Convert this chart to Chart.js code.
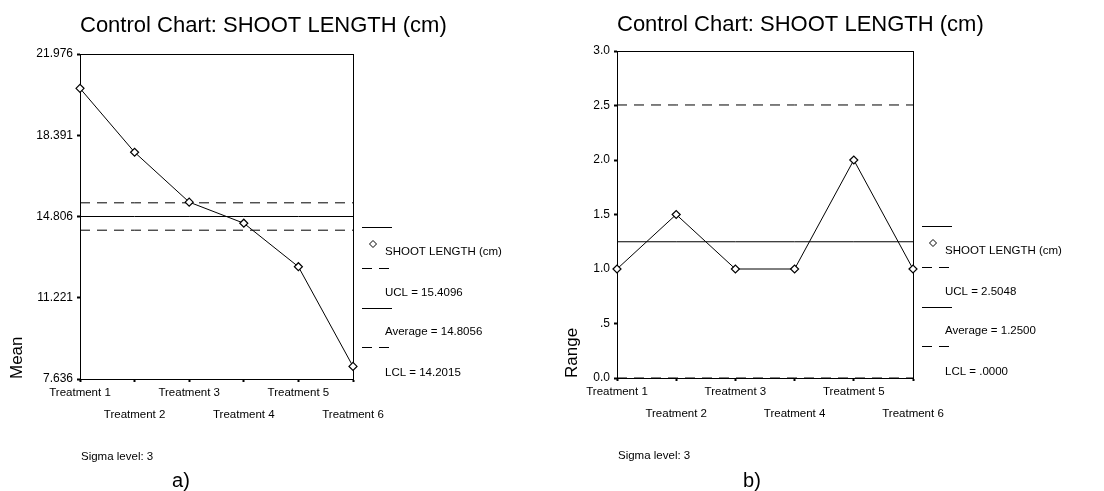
<!DOCTYPE html>
<html>
<head>
<meta charset="utf-8">
<script src="https://cdn.jsdelivr.net/npm/chart.js@4.4.1/dist/chart.umd.min.js"></script>
<style>
  body { margin: 0; background: #fff; }
  #wrap { position: relative; width: 1104px; height: 491px; }
  .panel { position: absolute; top: 0; width: 552px; height: 491px; }
</style>
</head>
<body>
<div id="wrap">
  <div class="panel" style="left:0"><canvas id="meanChart" width="552" height="491"></canvas></div>
  <div class="panel" style="left:552px"><canvas id="rangeChart" width="552" height="491"></canvas></div>
</div>
<script>
// Data
const categories = ['Treatment 1', 'Treatment 2', 'Treatment 3', 'Treatment 4', 'Treatment 5', 'Treatment 6'];
const seriesLabel = 'SHOOT LENGTH (cm)';
const chartTitle = 'Control Chart: SHOOT LENGTH (cm)';

const meanValues = [20.46, 17.64, 15.44, 14.51, 12.59, 8.19];
const meanTicks = [7.636, 11.221, 14.806, 18.391, 21.976];
const meanLimits = [15.4096, 14.8056, 14.2015]; // UCL, Average, LCL

const rangeValues = [1.0, 1.5, 1.0, 1.0, 2.0, 1.0];
const rangeTicks = [0, 0.5, 1.0, 1.5, 2.0, 2.5, 3.0];
const rangeLimits = [2.5048, 1.2500, 0.0000];

const limitNames = ['UCL', 'Average', 'LCL'];

const FONT = '"Liberation Sans", Arial, sans-serif';
Chart.defaults.font.family = FONT;
Chart.defaults.color = '#000';

function fmtLimit(v) {
    return v.toFixed(4).replace(/^0\./, '.');
}

function fmtRange(v) {
    return v === 0.5 ? '.5' : v.toFixed(1);
}

// box around the plot area (top and right edges)
const frame = {
    id: 'frame',
    beforeDatasetsDraw(chart) {
        const { ctx, chartArea: a } = chart;
        ctx.save();
        ctx.strokeStyle = '#000';
        ctx.lineWidth = 1;
        ctx.strokeRect(a.left + 0.5, a.top + 0.5, a.right - a.left, a.bottom - a.top);
        ctx.restore();
    }
};

// title, SPSS-style legend at the right of the plot, footer captions
const sideLegend = {
    id: 'sideLegend',
    afterDraw(chart, args, opts) {
        const { ctx, chartArea: a } = chart;
        const ds = chart.data.datasets;
        const x0 = a.right + 9, x1 = a.right + 39, tx = a.right + 32;
        const b = a.bottom;
        const sampleY = [b - 152, b - 111, b - 71, b - 32];
        const labelY = [b - 127, b - 86, b - 47, b - 6];
        ctx.save();
        ctx.fillStyle = '#000';

        ctx.font = '22px ' + FONT;
        ctx.textBaseline = 'alphabetic';
        ctx.fillText(opts.title, a.left, opts.titleY);

        ctx.textBaseline = 'middle';
        ctx.font = '11.5px ' + FONT;
        ds.forEach((d, i) => {
            ctx.strokeStyle = '#000';
            ctx.lineWidth = 1;
            ctx.setLineDash(d.borderDash || []);
            ctx.beginPath();
            ctx.moveTo(x0, sampleY[i] + 0.5);
            ctx.lineTo(x1, sampleY[i] + 0.5);
            ctx.stroke();
            ctx.setLineDash([]);
            if (i === 0) {
                const cx = a.right + 20, cy = sampleY[i] + 17, r = 3.5;
                ctx.beginPath();
                ctx.moveTo(cx, cy - r); ctx.lineTo(cx + r, cy); ctx.lineTo(cx, cy + r); ctx.lineTo(cx - r, cy); ctx.closePath();
                ctx.fillStyle = '#fff'; ctx.fill(); ctx.stroke();
                ctx.fillStyle = '#000';
            }
            ctx.fillText(d.label, tx, labelY[i]);
        });
        ctx.font = '11.5px ' + FONT;
        ctx.fillText('Sigma level: 3', a.left + 1, opts.sigmaY);
        ctx.font = '20px ' + FONT;
        ctx.textAlign = 'center';
        ctx.fillText(opts.tag, opts.tagX, 481);
        ctx.restore();
    }
};

function buildChart(id, cfg) {
    const limitSets = cfg.limits.map((v, i) => ({
        label: limitNames[i] + ' = ' + fmtLimit(v),
        data: categories.map(() => v),
        borderColor: '#000',
        borderWidth: 1,
        borderDash: i === 1 ? [] : [10, 7],
        pointRadius: 0,
        clip: false
    }));

    return new Chart(document.getElementById(id), {
        type: 'line',
        data: {
            labels: categories,
            datasets: [{
                label: seriesLabel,
                data: cfg.values,
                borderColor: '#000',
                borderWidth: 1,
                pointStyle: 'rectRot',
                pointRadius: 4,
                pointBackgroundColor: '#fff',
                pointBorderColor: '#000',
                pointBorderWidth: 1.2,
                tension: 0,
                clip: false
            }, ...limitSets]
        },
        options: {
            responsive: false,
            animation: false,
            devicePixelRatio: 1,
            layout: { padding: { left: 0, top: cfg.padTop, right: cfg.padRight, bottom: 0 } },
            plugins: {
                legend: { display: false },
                tooltip: { enabled: false },
                title: { display: false },
                sideLegend: { title: chartTitle, titleY: cfg.titleY, sigmaY: cfg.sigmaY, tag: cfg.tag, tagX: cfg.tagX }
            },
            scales: {
                x: {
                    offset: false,
                    afterFit: s => { s.height = cfg.xHeight; },
                    ticks: {
                        autoSkip: false,
                        maxRotation: 0,
                        minRotation: 0,
                        padding: 0,
                        color: '#000',
                        font: { size: 11.5, lineHeight: 22 / 11.5 },
                        callback(v, i) {
                            const l = this.getLabelForValue(v);
                            return i % 2 ? ['', l] : l;
                        }
                    },
                    grid: { drawOnChartArea: false, tickLength: 3, tickWidth: 2, tickColor: '#000' },
                    border: { color: '#000' }
                },
                y: {
                    min: cfg.ticks[0],
                    max: cfg.ticks[cfg.ticks.length - 1],
                    afterBuildTicks: s => { s.ticks = cfg.ticks.map(v => ({ value: v })); },
                    afterFit: s => { s.width = cfg.yWidth; },
                    ticks: { padding: 4, color: '#000', font: { size: 12 }, callback: cfg.fmt },
                    grid: { drawOnChartArea: false, tickLength: 3, tickWidth: 2, tickColor: '#000' },
                    border: { color: '#000' },
                    title: {
                        display: true,
                        text: cfg.axisTitle,
                        align: 'start',
                        color: '#000',
                        font: { size: 17 },
                        padding: { top: cfg.axisTitlePad, bottom: 0 }
                    }
                }
            }
        },
        plugins: [frame, sideLegend]
    });
}

buildChart('meanChart', {
    values: meanValues,
    ticks: meanTicks,
    limits: meanLimits,
    fmt: v => v.toFixed(3),
    axisTitle: 'Mean',
    axisTitlePad: 7,
    padTop: 54,
    padRight: 199,
    yWidth: 80,
    xHeight: 112,
    titleY: 32,
    sigmaY: 457,
    tag: 'a)',
    tagX: 181
});

buildChart('rangeChart', {
    values: rangeValues,
    ticks: rangeTicks,
    limits: rangeLimits,
    fmt: fmtRange,
    axisTitle: 'Range',
    axisTitlePad: 10,
    padTop: 51,
    padRight: 191,
    yWidth: 65,
    xHeight: 113,
    titleY: 31,
    sigmaY: 456,
    tag: 'b)',
    tagX: 200
});
</script>
</body>
</html>
